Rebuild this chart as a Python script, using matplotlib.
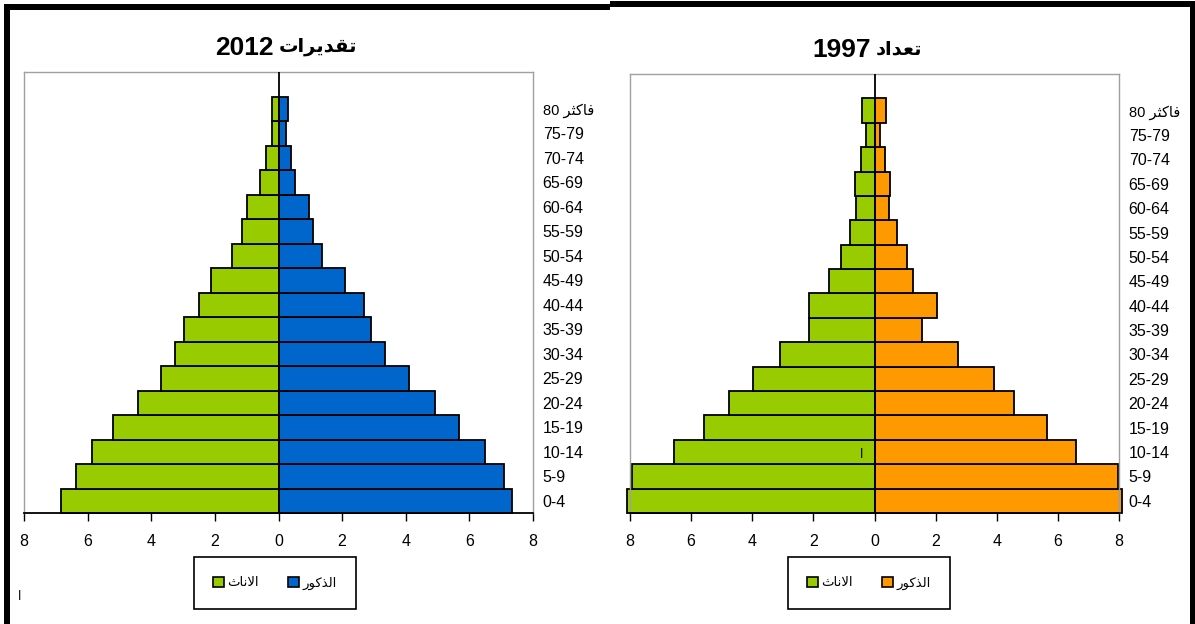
import numpy as np
from matplotlib import pyplot as plt
from matplotlib.patches import Rectangle, Patch

plt.rcParams['font.family'] = ['Liberation Sans', 'DejaVu Sans']

# Arabic text is written in presentation forms, in visual (left to right) order,
# because matplotlib does no shaping or bidi.
FAKTHAR = "\uFEAE\uFE9C\uFEDB\uFE8E\uFED3"
FEMALE_LABEL = "\uFE99\uFE8E\uFEE7\uFEFB\uFE8D"
MALE_LABEL = "\uFEAD\uFEEE\uFEDB\uFEAC\uFEDF\uFE8D"
TAQDIRAT = "\uFE95\uFE8D\uFEAE\uFEF3\uFEAA\uFED8\uFE97"
TAADAD = "\uFEA9\uFE8D\uFEAA\uFECC\uFE97"

# age groups, bottom to top
age_groups = ['0-4', '5-9', '10-14', '15-19', '20-24', '25-29', '30-34', '35-39',
              '40-44', '45-49', '50-54', '55-59', '60-64', '65-69', '70-74', '75-79',
              '80 ' + FAKTHAR]

# percent of population, 2012 estimates
female_2012 = [6.84, 6.37, 5.85, 5.21, 4.43, 3.68, 3.24, 2.96,
               2.50, 2.11, 1.47, 1.15, 0.99, 0.58, 0.39, 0.22, 0.22]
male_2012 = [7.35, 7.10, 6.50, 5.67, 4.91, 4.10, 3.35, 2.90,
             2.70, 2.10, 1.37, 1.09, 0.96, 0.52, 0.39, 0.23, 0.29]

# percent of population, 1997 census
female_1997 = [8.10, 7.92, 6.57, 5.59, 4.75, 3.98, 3.08, 2.14,
               2.14, 1.50, 1.08, 0.80, 0.61, 0.64, 0.45, 0.28, 0.40]
male_1997 = [8.10, 7.97, 6.59, 5.65, 4.55, 3.90, 2.72, 1.57,
             2.03, 1.26, 1.05, 0.73, 0.48, 0.52, 0.33, 0.19, 0.36]

GREEN = '#99CC00'
BLUE = '#0066CC'
ORANGE = '#FF9900'

W, H = 1195, 624
fig = plt.figure(figsize=(W / 100, H / 100), dpi=100)


def px_axes(left, top, right, bottom):
    return fig.add_axes([left / W, 1 - bottom / H, (right - left) / W, (bottom - top) / H])


def draw_pyramid(ax, female, male, male_color, year, word, split_x, title_y, legend_x):
    y = np.arange(len(age_groups))
    ax.barh(y, -np.array(female), height=1.0, color=GREEN, edgecolor='black',
            linewidth=1.3, clip_on=False, zorder=2)
    ax.barh(y, male, height=1.0, color=male_color, edgecolor='black',
            linewidth=1.3, clip_on=False, zorder=2)
    ax.axvline(0, color='black', lw=1.3, zorder=3)

    ax.set_xlim(-8, 8)
    ax.set_ylim(-0.5, len(age_groups) + 0.5)
    ax.set_xticks(range(-8, 9, 2))
    ax.set_xticklabels([str(abs(v)) for v in range(-8, 9, 2)], fontsize=11.5)
    ax.tick_params(axis='x', direction='out', length=6, width=1, pad=9, color='black')

    ax.yaxis.tick_right()
    ax.set_yticks(y)
    ax.set_yticklabels(age_groups, fontsize=11.5)
    ax.tick_params(axis='y', length=0, pad=7)
    ax.get_yticklabels()[-1].set_fontsize(10.5)

    for side in ['top', 'left', 'right']:
        ax.spines[side].set_color('#a0a0a0')
        ax.spines[side].set_linewidth(1.0)
    ax.spines['bottom'].set_color('black')
    ax.spines['bottom'].set_linewidth(1.3)

    # title: year on the left, Arabic word on the right
    fig.text(split_x / W, 1 - title_y / H, year, fontsize=19, fontweight='bold',
             ha='right', va='center')
    fig.text((split_x + 5) / W, 1 - (title_y - 1) / H, word, fontsize=14,
             fontweight='bold', family='DejaVu Sans', ha='left', va='center')

    handles = [Patch(facecolor=GREEN, edgecolor='black', linewidth=1.2),
               Patch(facecolor=male_color, edgecolor='black', linewidth=1.2)]
    leg = fig.legend(handles, [FEMALE_LABEL, MALE_LABEL], loc='center',
                     bbox_to_anchor=(legend_x / W, 1 - 583 / H), ncol=2,
                     fontsize=9.5, handlelength=0.8, handleheight=0.8,
                     handletextpad=0.3, columnspacing=2.2, borderpad=1.45,
                     borderaxespad=0, fancybox=False, edgecolor='black', framealpha=1)
    leg.get_frame().set_linewidth(1.2)


ax_left = px_axes(24, 72, 533, 513)
draw_pyramid(ax_left, female_2012, male_2012, BLUE, '2012', TAQDIRAT, 274, 48, 275)

ax_right = px_axes(630, 74, 1119, 513)
draw_pyramid(ax_right, female_1997, male_1997, ORANGE, '1997', TAADAD, 871, 50, 869)

# stray marks in the source picture
fig.text(20 / W, 1 - 597 / H, "\u0627", fontsize=9, ha='center', va='center')
fig.text(862 / W, 1 - 455 / H, "\u0627", fontsize=9, ha='center', va='center')

# thick black frame pieces around the two charts
for x0, y0, w, h in [(4, 4, 606, 6), (4, 4, 6, 620), (610, 1, 585, 6), (1190, 1, 5, 623)]:
    fig.add_artist(Rectangle((x0 / W, 1 - (y0 + h) / H), w / W, h / H,
                             transform=fig.transFigure, facecolor='black',
                             edgecolor='none'))

fig.savefig('out.png', dpi=100)
